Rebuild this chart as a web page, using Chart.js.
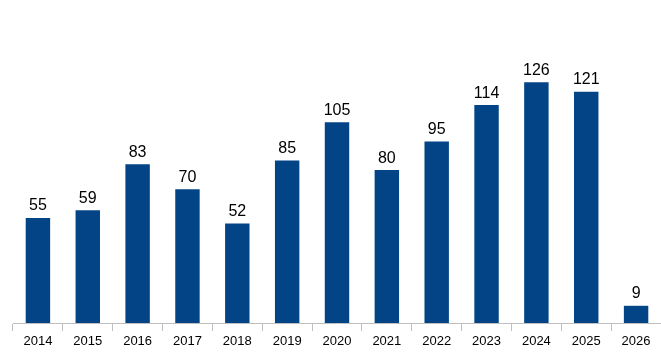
<!DOCTYPE html>
<html>
<head>
<meta charset="utf-8">
<script src="https://cdn.jsdelivr.net/npm/chart.js@4/dist/chart.umd.min.js"></script>
<style>
  html, body { margin: 0; padding: 0; background: #fff; }
  #wrap { width: 661px; height: 352px; }
</style>
</head>
<body>
<div id="wrap"><canvas id="chart"></canvas></div>
<script>
// --- Data ---
const years = ["2014", "2015", "2016", "2017", "2018", "2019", "2020",
    "2021", "2022", "2023", "2024", "2025", "2026"];
const counts = [55, 59, 83, 70, 52, 85, 105, 80, 95, 114, 126, 121, 9];

const barColor = "#024486";

// draws the number above each bar
const valueLabels = {
    id: "valueLabels",
    afterDatasetsDraw(chart) {
        const ctx = chart.ctx;
        const meta = chart.getDatasetMeta(0);
        ctx.save();
        ctx.font = "16px 'Liberation Sans', Arial, sans-serif";
        ctx.fillStyle = "#000";
        ctx.textAlign = "center";
        ctx.textBaseline = "bottom";
        meta.data.forEach((bar, i) => {
            ctx.fillText(String(counts[i]), bar.x, bar.y - 4);
        });
        ctx.restore();
    },
};

new Chart(document.getElementById("chart"), {
    type: "bar",
    data: {
        labels: years,
        datasets: [
            {
                data: counts,
                backgroundColor: barColor,
                borderWidth: 0,
                barPercentage: 0.49,
                categoryPercentage: 1,
            },
        ],
    },
    options: {
        responsive: true,
        maintainAspectRatio: false,
        animation: false,
        layout: { padding: { left: 13, right: 0, top: 0, bottom: 0 } },
        plugins: {
            legend: { display: false },
            tooltip: { enabled: false },
        },
        scales: {
            x: {
                grid: {
                    offset: true,
                    drawOnChartArea: false,
                    drawTicks: true,
                    tickLength: 8,
                    color: "#bfbfbf",
                },
                border: { color: "#bfbfbf", width: 1 },
                ticks: {
                    color: "#000",
                    padding: 4,
                    font: { family: "'Liberation Sans', Arial, sans-serif", size: 13, lineHeight: 1 },
                },
            },
            y: {
                display: false,
                min: 0,
                max: 169,
            },
        },
    },
    plugins: [valueLabels],
});
</script>
</body>
</html>
